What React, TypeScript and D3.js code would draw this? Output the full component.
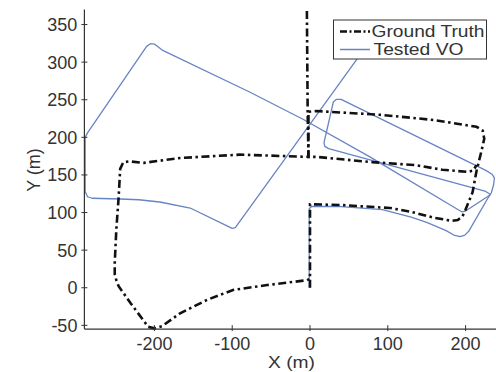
import React from "react";
import * as d3 from "d3";

const W = 496;
const H = 372;

const xTicks = [-200, -100, 0, 100, 200];
const yTicks = [-50, 0, 50, 100, 150, 200, 250, 300, 350];

// Ground truth trajectory (two pieces)
const gtRight: [number, number][] = [
  [0, 0], [0, 111], [40, 110], [103, 106], [130, 101], [160, 93], [182, 89], [190, 90], [196, 95],
  [200, 104], [209, 127], [214, 155], [220, 180], [224, 198], [222, 209], [214, 214], [160, 223],
  [90, 230], [8, 235], [-2, 234], [-2, 174], [8, 174], [80, 167], [136, 163], [170, 157], [203, 154],
  [210, 156], [214, 163],
];
const gtLeft: [number, number][] = [
  [-4, 368], [-3, 234], [-2, 174], [-90, 177], [-167, 172.5], [-214, 166], [-232, 168], [-240, 167],
  [-244, 158], [-246, 120], [-249, 77], [-251, 33], [-251, 18], [-249, 10], [-246, 2], [-231, -20],
  [-208, -52], [-200, -54], [-190, -51], [-167, -34], [-132, -16], [-99, -3], [-55, 3.6], [-4, 10], [0, 12],
];

// Tested VO trajectory (two pieces)
const voRight: [number, number][] = [
  [-1, 0], [-1, 105], [2, 108], [40, 108], [93, 104], [130, 94], [150, 87], [175, 76], [186, 69.5],
  [193, 68], [199, 70], [204, 75], [228, 118], [233, 126], [236, 137], [237, 146], [234, 151],
  [226, 156], [40, 250.5], [34, 250.5], [30, 247], [18, 193], [19, 188], [24, 185], [226, 128], [232, 124],
];
const voLeft: [number, number][] = [
  [75, 325], [-96, 80], [-100, 79], [-104, 81], [-154, 106], [-193, 114], [-220, 117], [-244, 118],
  [-280, 119], [-286, 121], [-289, 128], [-289, 200], [-286, 206], [-210, 321], [-205, 324.5],
  [-200, 324], [-190, 316], [-77, 260], [-9, 224], [77, 174], [190, 104], [195, 101], [200, 102],
  [228, 121], [232, 124],
];

const legendLabels = ["Ground Truth", "Tested VO"];

const FONT = "'Liberation Sans', Arial, Helvetica, sans-serif";
const GT_COLOR = "#111";
const VO_COLOR = "#6784c4";
const AXIS = "#333";
const DASH = "8,3.5,2.5,3.5";

export default function App() {
  const x = d3.scaleLinear().domain([-290, 240]).range([84.4, 496.7]);
  const y = d3.scaleLinear().domain([-55, 370]).range([329.1, 9.5]);
  const line = d3
    .line<[number, number]>()
    .x((d) => x(d[0]))
    .y((d) => y(d[1]));

  const x0 = x(-290);
  const yb = y(-55);

  return (
    <svg
      width={W}
      height={H}
      style={{ position: "absolute", left: 0, top: 0, background: "#fff" }}
      fontFamily={FONT}
    >
      <rect x={0} y={0} width={W} height={H} fill="#fff" />
      {/* VO */}
      <path d={line(voRight) || ""} fill="none" stroke={VO_COLOR} strokeWidth={1.3} strokeLinejoin="round" />
      <path d={line(voLeft) || ""} fill="none" stroke={VO_COLOR} strokeWidth={1.3} strokeLinejoin="round" />
      {/* GT */}
      <path d={line(gtRight) || ""} fill="none" stroke={GT_COLOR} strokeWidth={2.6} strokeDasharray={DASH} />
      <path d={line(gtLeft) || ""} fill="none" stroke={GT_COLOR} strokeWidth={2.6} strokeDasharray={DASH} />

      {/* axes */}
      <line x1={x0} x2={x0} y1={y(370)} y2={yb} stroke={AXIS} strokeWidth={1.2} />
      <line x1={x0} x2={W} y1={yb} y2={yb} stroke={AXIS} strokeWidth={1.2} />
      {yTicks.map((t) => (
        <g key={"y" + t}>
          <line x1={x0 - 3} x2={x0 + 3} y1={y(t)} y2={y(t)} stroke={AXIS} strokeWidth={1} />
          <text x={x0 - 7} y={y(t)} dy="0.36em" textAnchor="end" fontSize={18} fill="#333">
            {t}
          </text>
        </g>
      ))}
      {xTicks.map((t) => (
        <g key={"x" + t}>
          <line x1={x(t)} x2={x(t)} y1={yb - 4} y2={yb + 2} stroke={AXIS} strokeWidth={1} />
          <text x={x(t)} y={349.5} textAnchor="middle" fontSize={18} fill="#333">
            {t}
          </text>
        </g>
      ))}
      <text x={268} y={367.5} fontSize={17} fill="#333" textLength={47} lengthAdjust="spacingAndGlyphs">
        X (m)
      </text>
      <text transform="translate(40,170) rotate(-90)" textAnchor="middle" fontSize={18} fill="#333">
        Y (m)
      </text>

      {/* legend */}
      <rect x={333.5} y={20} width={153} height={39} fill="#fff" stroke={AXIS} strokeWidth={1} />
      <line x1={340} x2={370} y1={31.5} y2={31.5} stroke={GT_COLOR} strokeWidth={2.6} strokeDasharray="7,2.5,2,2.5" />
      <line x1={340} x2={370} y1={49.5} y2={49.5} stroke={VO_COLOR} strokeWidth={1.5} />
      <text x={371.5} y={37} fontSize={17} fill="#333" textLength={113} lengthAdjust="spacingAndGlyphs">
        {legendLabels[0]}
      </text>
      <text x={373.5} y={55} fontSize={17} fill="#333" textLength={90} lengthAdjust="spacingAndGlyphs">
        {legendLabels[1]}
      </text>
    </svg>
  );
}
